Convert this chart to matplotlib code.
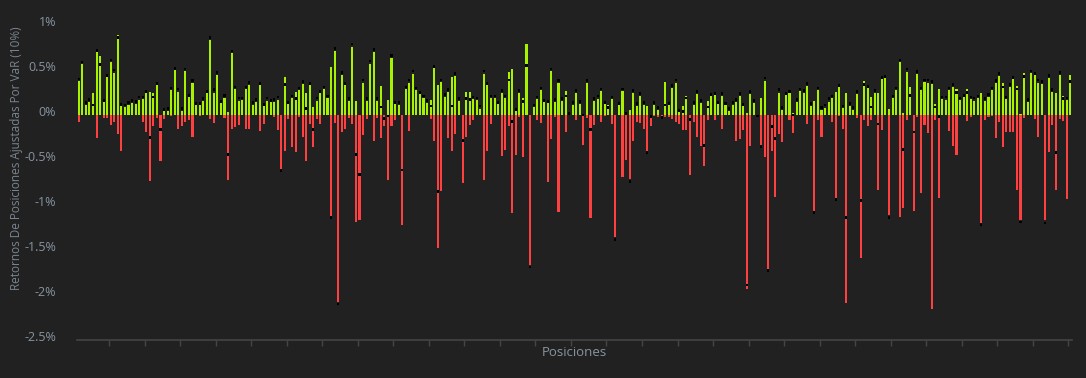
import numpy as np
import matplotlib
matplotlib.use("Agg")
import matplotlib.pyplot as plt
import matplotlib.transforms as mtransforms

# Retornos positivos (verde), negativos (rojo) y marcador (negro), en %
green = [
    0.38, 0.57, 0.11, 0.15, 0.24, 0.70, 0.65, 0.14, 0.42, 0.59, 0.47, 0.89, 0.10, 0.09, 0.11, 0.13,
    0.12, 0.17, 0.18, 0.28, 0.26, 0.24, 0.33, 0.00, 0.04, 0.04, 0.28, 0.50, 0.26, 0.05, 0.49, 0.20,
    0.36, 0.11, 0.11, 0.16, 0.24, 0.83, 0.25, 0.44, 0.13, 0.19, 0.03, 0.69, 0.29, 0.16, 0.17,
    0.29, 0.33, 0.11, 0.15, 0.33, 0.10, 0.16, 0.14, 0.14, 0.17, 0.00, 0.42, 0.12, 0.19, 0.26, 0.28,
    0.35, 0.25, 0.33, 0.09, 0.16, 0.24, 0.29, 0.19, 0.53, 0.71, 0.00, 0.44, 0.33, 0.16, 0.76, 0.16,
    0.00, 0.36, 0.16, 0.57, 0.70, 0.16, 0.32, 0.00, 0.17, 0.63, 0.12, 0.11, 0.00, 0.29, 0.36,
    0.46, 0.28, 0.23, 0.19, 0.13, 0.17, 0.52, 0.33, 0.37, 0.20, 0.26, 0.42, 0.43, 0.16, 0.00, 0.26,
    0.26, 0.18, 0.17, 0.07, 0.46, 0.33, 0.19, 0.19, 0.12, 0.25, 0.19, 0.48, 0.51, 0.04, 0.24, 0.19,
    0.79, 0.00, 0.09, 0.18, 0.28, 0.14, 0.13, 0.49, 0.15, 0.36, 0.16, 0.27, 0.00, 0.11,
    0.25, 0.12, 0.00, 0.36, 0.00, 0.16, 0.18, 0.27, 0.12, 0.11, 0.18, 0.00, 0.11, 0.27, 0.00, 0.06,
    0.25, 0.10, 0.21, 0.11, 0.10, 0.00, 0.11, 0.06, 0.00, 0.37, 0.11, 0.30, 0.36, 0.03, 0.10, 0.21,
    0.00, 0.11, 0.23, 0.13, 0.00, 0.16, 0.21, 0.22, 0.12, 0.21, 0.11, 0.05, 0.11, 0.14, 0.21,
    0.10, 0.02, 0.23, 0.13, 0.00, 0.19, 0.38, 0.00, 0.00, 0.00, 0.25, 0.06, 0.22, 0.24, 0.02, 0.15,
    0.27, 0.24, 0.32, 0.10, 0.16, 0.28, 0.06, 0.08, 0.15, 0.19, 0.26, 0.31, 0.08, 0.24, 0.10, 0.06,
    0.23, 0.00, 0.38, 0.30, 0.20, 0.24, 0.24, 0.40, 0.41, 0.07, 0.19, 0.28, 0.59, 0.02, 0.48,
    0.31, 0.00, 0.46, 0.28, 0.37, 0.36, 0.34, 0.12, 0.29, 0.18, 0.17, 0.28, 0.31, 0.29, 0.17, 0.20,
    0.29, 0.18, 0.16, 0.19, 0.24, 0.16, 0.20, 0.28, 0.36, 0.43, 0.36, 0.18, 0.31, 0.40, 0.32, 0.01,
    0.47, 0.14, 0.47, 0.44, 0.36, 0.34, 0.00, 0.41, 0.26, 0.24, 0.45, 0.21, 0.17, 0.44,
]
red = [
    -0.08, 0.00, 0.00, 0.00, 0.00, -0.26, 0.00, -0.03, -0.03, -0.11, -0.08, -0.21, -0.40, 0.00, 0.00, 0.00,
    0.00, 0.00, -0.08, -0.19, -0.73, -0.12, -0.03, -0.51, -0.04, 0.00, -0.01, 0.00, -0.15, -0.12, -0.08, -0.05,
    -0.24, 0.00, -0.01, 0.00, 0.00, -0.04, -0.09, 0.00, 0.00, -0.03, -0.72, -0.15, -0.13, -0.11, 0.00,
    -0.16, -0.16, 0.00, 0.00, -0.18, -0.10, 0.00, 0.00, -0.02, -0.17, -0.60, -0.40, -0.04, -0.35, -0.41, -0.02,
    -0.24, -0.51, -0.10, -0.36, -0.04, -0.10, 0.00, 0.00, -1.12, -0.09, -2.08, -0.19, -0.15, -0.03, -0.10, -1.19,
    -1.17, -0.22, -0.04, 0.00, -0.29, -0.03, -0.25, -0.12, -0.72, -0.12, -0.05, 0.00, -1.22, 0.00, -0.18,
    0.00, 0.00, 0.00, 0.00, 0.00, -0.04, -0.29, -1.48, -0.84, 0.00, -0.25, -0.40, -0.21, 0.00, -0.76, -0.24,
    -0.11, -0.06, 0.00, 0.00, -0.72, -0.40, -0.10, 0.00, 0.00, -0.45, -0.39, -0.12, -1.09, -0.44, -0.02, -0.47,
    0.00, -1.67, 0.00, -0.05, -0.09, 0.00, -0.74, -0.27, -0.02, -1.08, 0.00, -0.19, 0.00, 0.00,
    -0.06, 0.00, -0.33, -0.03, -1.14, -0.11, 0.00, -0.08, -0.01, 0.00, -0.10, -1.36, 0.00, -0.69, -0.50, -0.71,
    -0.29, -0.08, -0.09, -0.15, -0.40, -0.12, -0.01, -0.02, -0.02, -0.02, -0.02, -0.04, -0.08, -0.10, -0.17, -0.17,
    -0.67, -0.08, -0.24, -0.34, -0.57, -0.06, 0.00, -0.06, 0.00, -0.15, 0.00, 0.00, 0.00, -0.29, -0.27,
    -0.17, -1.93, -0.34, 0.00, -0.02, -0.33, -0.47, -1.71, -0.40, -0.91, -0.21, -0.30, 0.00, -0.06, -0.20, 0.00,
    0.00, 0.00, -0.10, 0.00, -1.07, -0.06, -0.24, 0.00, 0.00, -0.08, -0.92, -0.01, -0.16, -2.09, 0.00, 0.00,
    -0.03, -1.59, -0.06, -0.12, -0.05, 0.00, -0.83, -0.17, 0.00, -1.11, 0.00, 0.00, -1.13, -1.03, -0.06,
    0.00, -1.07, -0.02, -0.87, -0.11, -0.20, -2.16, -0.06, -0.92, 0.00, 0.00, -0.18, -0.34, -0.44, 0.00, 0.00,
    -0.07, -0.02, 0.00, 0.00, -1.20, -0.05, -0.02, -0.01, -0.25, -0.08, -0.36, -0.19, -0.19, -0.19, -0.83, -1.17,
    -0.03, 0.00, 0.00, -0.04, -0.24, 0.00, -1.17, -0.41, -0.11, -0.83, -0.04, -0.07, -0.93, 0.00,
]
marker = [
    0.40, 0.59, 0.14, 0.17, 0.11, 0.72, 0.56, 0.16, 0.44, 0.61, 0.50, 0.86, 0.12, 0.11, 0.14, 0.16,
    0.15, 0.20, 0.20, 0.26, -0.25, 0.20, 0.35, -0.16, 0.06, 0.07, 0.30, 0.52, 0.29, 0.07, 0.51, 0.22,
    0.38, 0.13, 0.13, 0.18, 0.26, 0.86, 0.28, 0.47, 0.15, 0.22, -0.44, 0.71, 0.31, 0.19, 0.19,
    0.31, 0.36, 0.14, 0.17, 0.35, 0.12, 0.19, 0.16, 0.17, 0.20, -0.62, 0.34, 0.14, 0.21, 0.18, 0.30,
    0.37, 0.07, 0.35, -0.16, 0.19, 0.26, 0.31, 0.21, -1.14, 0.74, -2.10, 0.47, 0.35, 0.18, 0.79, -0.44,
    -0.66, 0.39, 0.18, 0.60, 0.73, 0.18, 0.09, -0.04, -0.01, 0.66, 0.14, 0.14, -0.61, 0.31, 0.39,
    0.49, 0.30, 0.25, 0.21, 0.16, 0.10, 0.54, -0.85, 0.39, 0.23, 0.28, 0.10, 0.46, 0.18, -0.28, 0.18,
    0.17, 0.20, 0.19, 0.10, 0.49, 0.35, 0.21, 0.21, 0.14, 0.27, 0.21, 0.39, -0.07, 0.06, 0.27, 0.15,
    0.55, -1.69, 0.11, 0.20, 0.30, 0.16, 0.15, 0.51, 0.17, 0.38, 0.18, 0.21, 0.02, 0.14,
    0.27, 0.15, 0.00, 0.38, -0.16, 0.18, 0.21, 0.29, 0.14, 0.08, 0.20, -1.38, 0.13, 0.29, 0.02, -0.74,
    0.27, 0.13, 0.24, 0.14, -0.42, -0.02, 0.14, 0.08, -0.03, 0.11, 0.13, 0.33, 0.39, 0.05, 0.04, 0.19,
    -0.05, 0.14, 0.26, 0.16, -0.34, 0.09, 0.23, 0.24, 0.14, 0.24, 0.13, 0.07, 0.14, 0.17, 0.24,
    0.12, -1.89, 0.26, 0.16, -0.01, -0.35, 0.41, -1.73, -0.13, -0.26, 0.28, 0.08, 0.24, 0.26, 0.00, 0.17,
    0.29, 0.27, 0.35, 0.13, -1.08, 0.30, 0.08, 0.11, 0.18, 0.21, -0.94, 0.33, 0.10, -1.14, 0.13, 0.08,
    0.26, -0.95, 0.34, 0.32, 0.09, 0.27, -0.10, 0.42, 0.43, -1.14, 0.21, 0.30, 0.61, -0.38, 0.51,
    0.22, -0.19, 0.48, 0.30, 0.39, 0.39, 0.37, 0.09, -0.02, 0.20, 0.20, 0.30, 0.34, 0.25, 0.19, 0.22,
    0.25, 0.20, 0.19, 0.21, -1.22, 0.18, 0.23, 0.30, 0.38, 0.46, 0.31, 0.20, 0.34, 0.42, 0.29, -1.19,
    0.43, 0.17, 0.49, 0.46, 0.39, 0.37, -1.20, 0.44, 0.28, -0.42, 0.47, 0.18, 0.19, 0.37,
]

y_ticks = [1, 0.5, 0, -0.5, -1, -1.5, -2, -2.5]
y_tick_labels = ["1%", "0.5%", "0%", "-0.5%", "-1%", "-1.5%", "-2%", "-2.5%"]

bg = "#212121"
text_col = "#8794a0"
axis_col = "#454545"

fig = plt.figure(figsize=(10.86, 3.78), dpi=100, facecolor=bg)
ax = fig.add_axes([77 / 1086, 1 - 340 / 378, 995 / 1086, 315 / 378], facecolor=bg)

x = np.arange(len(green))
w = 0.58
ax.bar(x, green, width=w, color="#a6f200", zorder=2)
ax.bar(x, red, width=w, color="#ff4040", zorder=2)
# marcador negro: pequeño rectángulo centrado en el valor
mk = np.array(marker)
ax.bar(x, 0.03, bottom=mk - 0.015, width=w, color="#000000", zorder=3)

ax.set_xlim(-0.5, len(green) - 0.5)
ax.set_ylim(-2.5, 1)

# ejes
for s in ["top", "right", "left"]:
    ax.spines[s].set_visible(False)
ax.spines["bottom"].set_color(axis_col)
ax.spines["bottom"].set_linewidth(1.2)

ax.set_xticks(np.arange(9, len(green), 10) - 0.5)
ax.set_xticklabels([])
ax.tick_params(axis="x", length=4, width=1, color=axis_col)

ax.set_yticks(y_ticks)
ax.set_yticklabels(y_tick_labels, fontsize=9, color=text_col, family="Open Sans")
ax.tick_params(axis="y", length=0, pad=15)
offset = mtransforms.ScaledTranslation(0, 4 / 100, fig.dpi_scale_trans)
for lab in ax.get_yticklabels():
    lab.set_transform(lab.get_transform() + offset)

fig.text(574.5 / 1086, 1 - 353 / 378, "Posiciones", ha="center", va="center",
         fontsize=9.5, color=text_col, family="Open Sans")
fig.text(17 / 1086, 1 - 158 / 378, "Retornos De Posiciones Ajustadas Por VaR (10%)",
         rotation=90, ha="center", va="center", fontsize=8.5, color="#7a8590", family="Open Sans")

fig.savefig("out.png", dpi=100, facecolor=bg)
